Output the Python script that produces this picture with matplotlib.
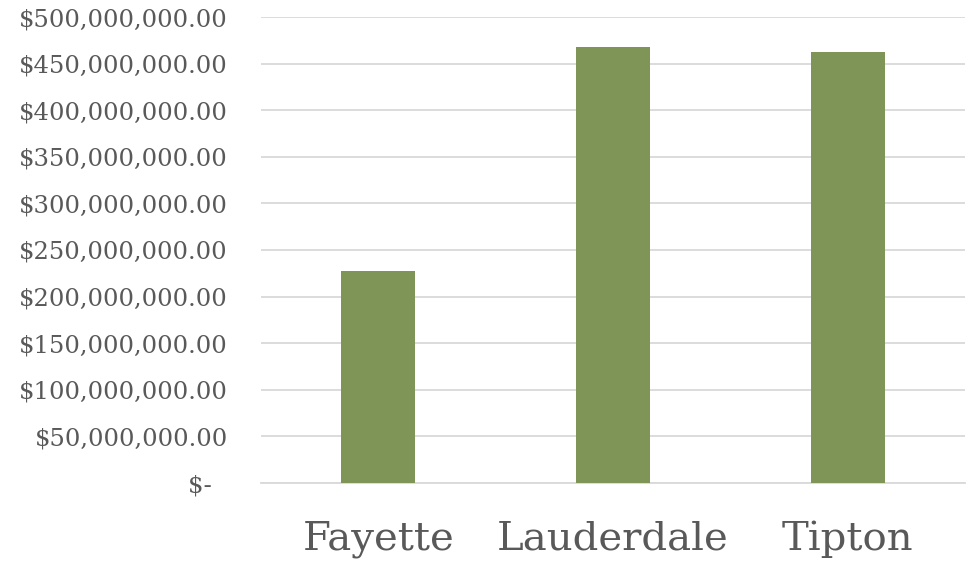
import matplotlib
matplotlib.use("Agg")
import matplotlib.pyplot as plt
from matplotlib.ticker import FuncFormatter

categories = ["Fayette", "Lauderdale", "Tipton"]
values = [227_000_000, 467_500_000, 462_500_000]
yticks = list(range(0, 500_000_001, 50_000_000))

fig = plt.figure(figsize=(9.77, 5.64), dpi=100)
ax = fig.add_axes([261/977, 1-483/564, (965-261)/977, (483-17)/564])

x = list(range(len(categories)))
ax.bar(x, values, width=0.315, color="#7F9558", zorder=3)
ax.set_xlim(-0.5, 2.5)
ax.set_ylim(0, 500_000_000)
ax.set_yticks(yticks)

def fmt(v, pos):
    if v == 0:
        return "$-  "
    return "${:,.2f}".format(v)

ax.yaxis.set_major_formatter(FuncFormatter(fmt))
ax.grid(axis="y", color="#D9D9D9", linewidth=1.3, zorder=0)
for s in ["top", "right", "left"]:
    ax.spines[s].set_visible(False)
ax.spines["bottom"].set_color("#D9D9D9")
ax.spines["bottom"].set_linewidth(1.3)
ax.tick_params(axis="both", length=0)
ax.tick_params(axis="y", labelsize=17.5, labelcolor="#595959", pad=24)
ax.set_xticks(x)
ax.set_xticklabels(categories)
ax.tick_params(axis="x", labelsize=29, labelcolor="#595959", pad=27)
for lab in ax.get_yticklabels() + ax.get_xticklabels():
    lab.set_family("DejaVu Serif")

fig.savefig("out.png", dpi=100)
